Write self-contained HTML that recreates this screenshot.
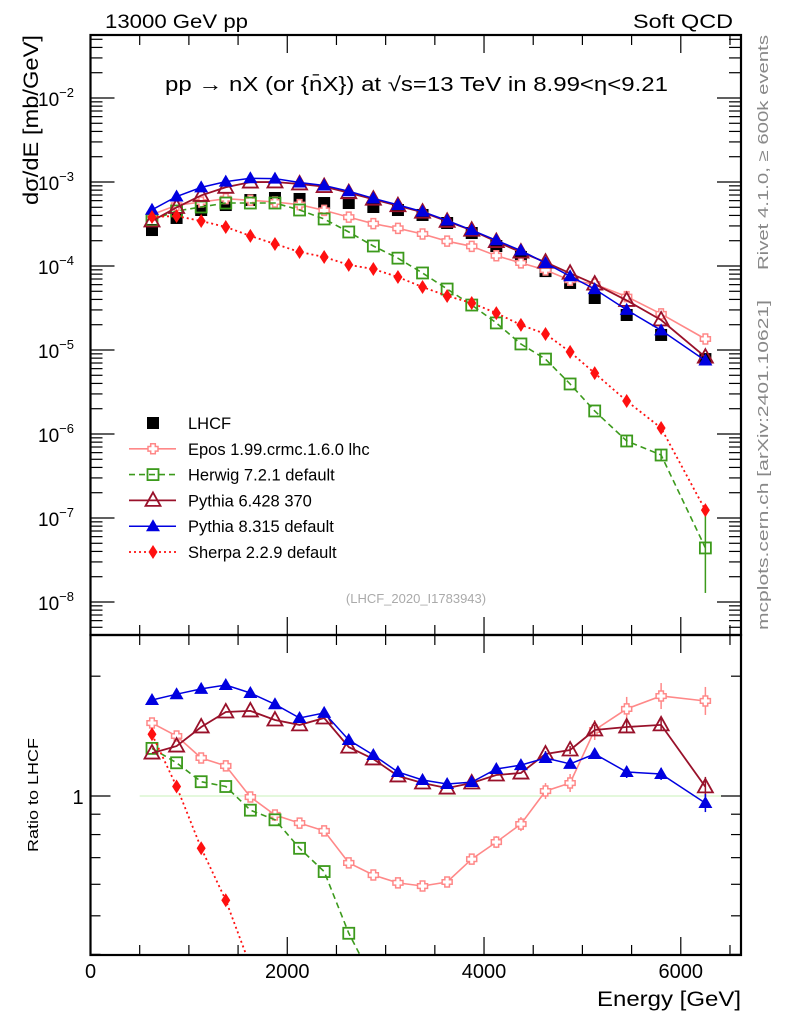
<!DOCTYPE html>
<html><head><meta charset="utf-8"><style>
html,body{margin:0;padding:0;background:#fff;width:786px;height:1024px;overflow:hidden}
svg{display:block;font-family:"Liberation Sans",Arial,sans-serif}
</style></head><body>
<svg id="chart" width="786" height="1024" viewBox="0 0 786 1024" xmlns="http://www.w3.org/2000/svg">
<text x="105" y="28" font-size="19" textLength="143" lengthAdjust="spacingAndGlyphs">13000 GeV pp</text>
<text x="733" y="28" font-size="19" text-anchor="end" textLength="100" lengthAdjust="spacingAndGlyphs">Soft QCD</text>
<text x="165" y="91" font-size="20" textLength="503" lengthAdjust="spacingAndGlyphs">pp → nX (or {n̄X}) at √s=13 TeV in 8.99&lt;η&lt;9.21</text>
<text transform="translate(38,205) rotate(-90)" font-size="21" textLength="170" lengthAdjust="spacingAndGlyphs">dσ/dE [mb/GeV]</text>
<text transform="translate(768,270) rotate(-90)" font-size="15" fill="#888" textLength="235" lengthAdjust="spacingAndGlyphs">Rivet 4.1.0, ≥ 600k events</text>
<text transform="translate(768,630) rotate(-90)" font-size="15" fill="#888" textLength="330" lengthAdjust="spacingAndGlyphs">mcplots.cern.ch [arXiv:2401.10621]</text>
<text x="416" y="603" font-size="13" fill="#aaa" text-anchor="middle">(LHCF_2020_I1783943)</text>
<text transform="translate(38,852) rotate(-90)" font-size="15" textLength="114" lengthAdjust="spacingAndGlyphs">Ratio to LHCF</text>
<text x="741" y="1006" font-size="21" text-anchor="end" textLength="144" lengthAdjust="spacingAndGlyphs">Energy [GeV]</text>
<g id="g"></g>
</svg>
<script>
const energies=[625,875,1125,1375,1625,1875,2125,2375,2625,2875,3125,3375,3625,3875,4125,4375,4625,4875,5125,5450,5800,6250];
const lhcf=[2.68e-4,3.73e-4,4.64e-4,5.32e-4,6.1e-4,6.45e-4,6.28e-4,5.62e-4,5.62e-4,5.04e-4,4.64e-4,4.05e-4,3.25e-4,2.47e-4,1.73e-4,1.28e-4,8.7e-5,6.28e-5,4.16e-5,2.61e-5,1.51e-5,7.8e-6];
const eposRatio=[1.525,1.415,1.246,1.19,0.994,0.896,0.855,0.817,0.679,0.633,0.605,0.594,0.608,0.694,0.766,0.85,1.029,1.078,1.465,1.655,1.783,1.733];
const pythia6Ratio=[1.282,1.335,1.491,1.626,1.636,1.552,1.509,1.57,1.327,1.239,1.123,1.078,1.047,1.078,1.129,1.142,1.275,1.305,1.465,1.491,1.509,1.054];
const pythia8Ratio=[1.743,1.802,1.858,1.901,1.815,1.70,1.57,1.617,1.383,1.268,1.149,1.097,1.072,1.084,1.169,1.196,1.246,1.204,1.275,1.149,1.136,0.960];
const herwig=[3.53e-4,4.52e-4,5.04e-4,5.62e-4,5.62e-4,5.62e-4,4.64e-4,3.63e-4,2.54e-4,1.73e-4,1.24e-4,8.26e-5,5.32e-5,3.43e-5,2.1e-5,1.18e-5,7.8e-6,3.94e-6,1.88e-6,8.26e-7,5.62e-7,4.4e-8];
const sherpa=[3.83e-4,3.94e-4,3.43e-4,2.91e-4,2.28e-4,1.83e-4,1.47e-4,1.28e-4,1.03e-4,9.2e-5,7.4e-5,5.62e-5,4.4e-5,3.63e-5,2.75e-5,1.99e-5,1.55e-5,9.5e-6,5.3e-6,2.47e-6,1.18e-6,1.24e-7];
const xTicks=[0,2000,4000,6000];
const yDecades=[-8,-7,-6,-5,-4,-3,-2];

const NS="http://www.w3.org/2000/svg";
const G=document.getElementById('g');
const L=90.5,R=741,T=35,M=635,B=955;
const X=v=>L+(v/6612)*(R-L);
const Y=v=>182-(Math.log10(v)+3)*84;
const RY=v=>796-Math.log10(v)*398;
function el(t,a,p){const e=document.createElementNS(NS,t);for(const k in a)e.setAttribute(k,a[k]);(p||G).appendChild(e);return e;}

const defs=el('defs',{});
const cp1=el('clipPath',{id:'c1'},defs);el('rect',{x:L,y:T,width:R-L,height:M-T},cp1);
const cp2=el('clipPath',{id:'c2'},defs);el('rect',{x:L,y:M,width:R-L,height:B-M},cp2);
const main=el('g',{'clip-path':'url(#c1)'});


const rat=el('g',{'clip-path':'url(#c2)'});



const ref=el('line',{x1:X(500),x2:R,y1:RY(1),y2:RY(1),stroke:'#c8f0b8','stroke-width':1},rat);



function marker(p,kind,x,y,c){
  if(kind==='sq')return el('rect',{x:x-6,y:y-6,width:12,height:12,fill:c},p);
  if(kind==='osq')return el('rect',{x:x-5.5,y:y-5.5,width:11,height:11,fill:'#fff','fill-opacity':0,stroke:c,'stroke-width':1.8},p);
  if(kind==='otri')return el('path',{d:`M${x},${y-8}L${x+7.5},${y+5.5}L${x-7.5},${y+5.5}Z`,fill:'none',stroke:c,'stroke-width':1.8},p);
  if(kind==='tri')return el('path',{d:`M${x},${y-7}L${x+7},${y+5}L${x-7},${y+5}Z`,fill:c},p);
  if(kind==='dia')return el('path',{d:`M${x},${y-7}L${x+4.5},${y}L${x},${y+7}L${x-4.5},${y}Z`,fill:c},p);
  if(kind==='cross'){const s=5,w=2.3;return el('path',{d:`M${x-w},${y-s}h${2*w}v${s-w}h${s-w}v${2*w}h${-(s-w)}v${s-w}h${-2*w}v${-(s-w)}h${-(s-w)}v${-2*w}h${s-w}Z`,fill:'#fff',stroke:c,'stroke-width':1.5},p);}
}
const series=[
 {name:'epos',c:'#ff8888',kind:'cross',dash:'',w:1.6,err:[0,0,0,0,0,0,0,0,0,0,0,0,3,5,6,7,8,9,10,12,13,14],main:energies.map((e,i)=>lhcf[i]*eposRatio[i]),ratio:eposRatio},
 {name:'herwig',c:'#3c9a1c',kind:'osq',dash:'6,4',w:1.6,err:null,main:herwig,ratio:herwig.map((v,i)=>v/lhcf[i])},
 {name:'pythia6',c:'#99112a',kind:'otri',dash:'',w:1.8,err:[0,0,0,0,0,0,0,0,0,0,0,0,0,0,0,0,3,4,5,6,6,10],main:energies.map((e,i)=>lhcf[i]*pythia6Ratio[i]),ratio:pythia6Ratio},
 {name:'pythia8',c:'#0000e0',kind:'tri',dash:'',w:1.5,err:[0,0,0,0,0,0,0,0,0,0,0,0,0,0,0,0,3,4,5,6,6,9],main:energies.map((e,i)=>lhcf[i]*pythia8Ratio[i]),ratio:pythia8Ratio},
 {name:'sherpa',c:'#ff1010',kind:'dia',dash:'2,3',w:1.8,err:null,main:sherpa,ratio:sherpa.map((v,i)=>v/lhcf[i])}
];
const lg=el('g',{},main);


energies.forEach((e,i)=>{const m=marker(lg,'sq',X(e),Y(lhcf[i]),'#000');
 
 });
series.forEach(s=>{
 [[main,s.main,Y],[rat,s.ratio,RY]].forEach(([p,vals,fy],k)=>{
  const g=el('g',{},p);
  
  
  const d=vals.map((v,i)=>(i?'L':'M')+X(energies[i]).toFixed(1)+','+fy(v).toFixed(1)).join('');
  const ln=el('path',{d:d,fill:'none',stroke:s.c,'stroke-width':s.w,'stroke-dasharray':s.dash},g);
  
  
  vals.forEach((v,i)=>{
   const x=X(energies[i]),y=fy(v);
   if(k===1&&s.err&&s.err[i]>0){el('line',{x1:x,x2:x,y1:y-s.err[i],y2:y+s.err[i],stroke:s.c,'stroke-width':1.5},g);}
   if(k===0&&s.name==='herwig'&&i>=19){const up=i===21?42:6,dn=i===21?45:6;el('line',{x1:x,x2:x,y1:y-up,y2:y+dn,stroke:s.c,'stroke-width':1.5},g);}
   const m=marker(g,s.kind,x,y,s.c);
   
   
  });
 });
});

[[T,M],[M,B]].forEach(([a,b],k)=>{
 const f=el('rect',{x:L,y:a,width:R-L,height:b-a,fill:'none',stroke:'#000','stroke-width':2.2});
 
 
 for(let v=0;v<=6500;v+=500){const x=X(v),len=v%2000===0?18:10;
  el('line',{x1:x,x2:x,y1:a,y2:a+len,stroke:'#000','stroke-width':1.2});
  el('line',{x1:x,x2:x,y1:b,y2:b-len,stroke:'#000','stroke-width':1.2});}
});
for(let d=-9;d<=-2;d++){for(let m=1;m<10;m++){const v=m*Math.pow(10,d),y=Y(v);if(y<T||y>M)continue;const len=m===1?24:12;
 el('line',{x1:L,x2:L+len,y1:y,y2:y,stroke:'#000','stroke-width':1.2});el('line',{x1:R,x2:R-len,y1:y,y2:y,stroke:'#000','stroke-width':1.2});}}
yDecades.forEach(d=>{const t=el('text',{x:38,y:Y(Math.pow(10,d))+8,'font-size':19});
 
 
 t.textContent='10';const s=el('tspan',{dy:-9,'font-size':13},t);s.textContent='−'+(-d);});
[0.4,0.5,0.6,0.7,0.8,0.9,1,2].forEach(v=>{const y=RY(v);if(y<M||y>B)return;const len=v===1?20:10;
 el('line',{x1:L,x2:L+len,y1:y,y2:y,stroke:'#000','stroke-width':1.2});el('line',{x1:R,x2:R-len,y1:y,y2:y,stroke:'#000','stroke-width':1.2});});
const one=el('text',{x:78,y:RY(1)+8,'font-size':20,'text-anchor':'middle'});


one.textContent='1';
xTicks.forEach(v=>{const t=el('text',{x:X(v),y:978,'font-size':20,'text-anchor':'middle'});
 
 
 t.textContent=v;});

const legendNames=['LHCF','Epos 1.99.crmc.1.6.0 lhc','Herwig 7.2.1 default','Pythia 6.428 370','Pythia 8.315 default','Sherpa 2.2.9 default'];
const lgd=el('g',{});


legendNames.forEach((n,i)=>{
 const y=423+i*25.8;const e=el('g',{},lgd);
 
 
 if(i===0){marker(e,'sq',153,y,'#000');}
 else{const s=series[i-1];el('line',{x1:129,x2:176,y1:y,y2:y,stroke:s.c,'stroke-width':s.w,'stroke-dasharray':s.dash},e);marker(e,s.kind,153,y,s.c);}
 const t=el('text',{x:188,y:y+6,'font-size':16.5},e);t.textContent=n;
});
</script>
</body></html>
